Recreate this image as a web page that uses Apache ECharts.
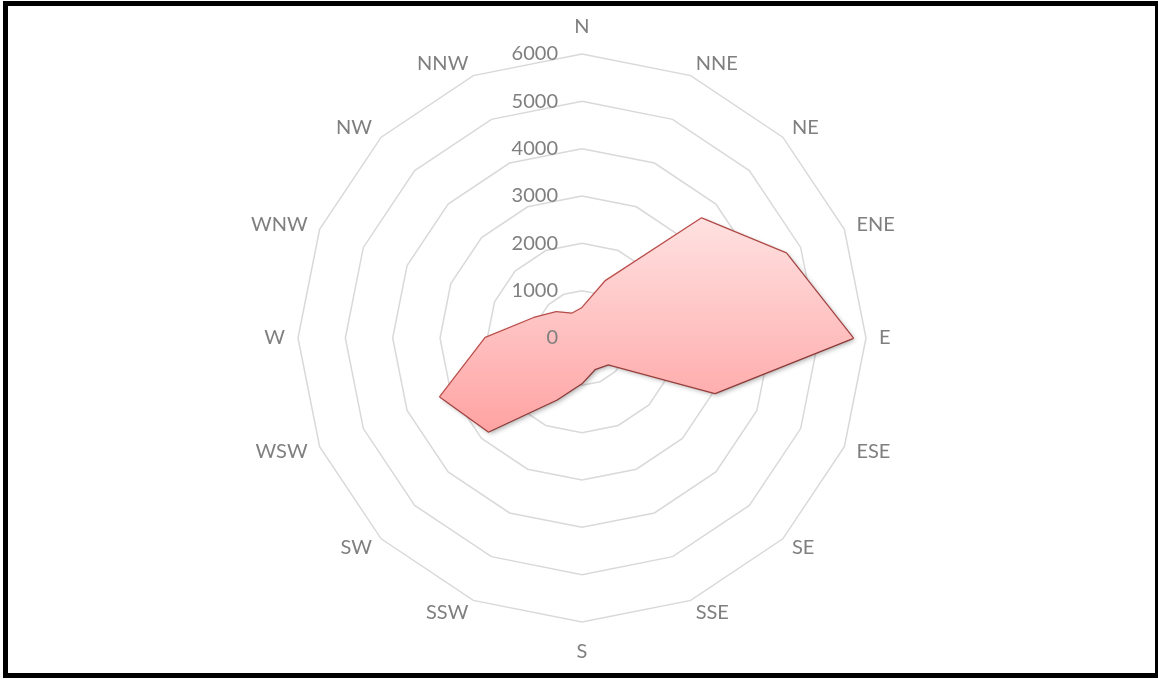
<!DOCTYPE html>
<html>
<head>
<meta charset="utf-8">
<script src="https://cdn.jsdelivr.net/npm/echarts@6/dist/echarts.min.js"></script>
<style>
html, body { margin: 0; padding: 0; background: #fff; }
#frame { position: absolute; left: 3px; top: 1px; width: 1157px; height: 677px; box-sizing: border-box; border: 5px solid #000; }
#chart { position: absolute; left: 0; top: 0; width: 1158px; height: 679px; }
</style>
</head>
<body>
<div id="chart"></div>
<div id="frame"></div>
<script>
// directions in compass order (clockwise from N)
var directions = ['N', 'NNE', 'NE', 'ENE', 'E', 'ESE', 'SE', 'SSE', 'S', 'SSW', 'SW', 'WSW', 'W', 'WNW', 'NW', 'NNW'];
var counts = [628, 1300, 3570, 4670, 5720, 3040, 785, 710, 950, 1410, 2790, 3240, 2040, 1100, 770, 555];
var maxValue = 6000;

// radar draws counter-clockwise, so walk the compass backwards after N
var order = [0];
for (var i = directions.length - 1; i > 0; i--) order.push(i);

var indicator = order.map(function (k) {
	return { name: directions[k], min: 0, max: maxValue };
});
// second copy only for the scale numbers, drawn above the filled area
var labelIndicator = order.map(function (k, idx) {
	var item = { name: directions[k], min: 0, max: maxValue };
	if (idx === 0) item.axisLabel = { show: true, showMinLabel: true };  // only N axis carries the numbers
	return item;
});
var values = order.map(function (k) { return counts[k]; });

var labelFont = { color: '#7f7f7f', fontFamily: 'Lato', fontSize: 20 };

var chart = echarts.init(document.getElementById('chart'));
var option = {
	animation: false,
	radar: [{
		z: 1,
		center: [582, 338],
		radius: 284,
		startAngle: 90,
		splitNumber: 6,
		shape: 'polygon',
		indicator: indicator,
		axisName: {
			color: '#7f7f7f',
			fontFamily: 'Lato',
			fontSize: 20,
			formatter: function (name) {
				if (name === 'N') return '{n|N}';
				if (name === 'S') return '{s|S}';
				return name;
			},
			rich: {
				n: { color: '#7f7f7f', fontFamily: 'Lato', fontSize: 20, padding: [0, 0, 4, 0] },
				s: { color: '#7f7f7f', fontFamily: 'Lato', fontSize: 20, padding: [7, 0, 0, 0] }
			}
		},
		nameGap: 13,
		axisLine: { show: false },
		axisTick: { show: false },
		axisLabel: { show: false },
		splitLine: { lineStyle: { color: '#d9d9d9', width: 1.5 } },
		splitArea: { show: false }
	}, {
		z: 5,
		center: [582, 338],
		radius: 284,
		startAngle: 90,
		splitNumber: 6,
		shape: 'polygon',
		indicator: labelIndicator,
		axisName: { show: false },
		axisLine: { show: false },
		axisTick: { show: false },
		axisLabel: {
			show: false,
			showMinLabel: true,
			color: labelFont.color,
			fontFamily: labelFont.fontFamily,
			fontSize: labelFont.fontSize,
			margin: 24,
			formatter: function (v) { return String(v); }
		},
		splitLine: { show: false },
		splitArea: { show: false }
	}],
	series: [{
		type: 'radar',
		radarIndex: 0,
		z: 2,
		symbol: 'none',
		data: [{ value: values }],
		lineStyle: { color: '#c0504d', width: 2.5 },
		areaStyle: {
			opacity: 1,
			color: new echarts.graphic.LinearGradient(0, 0, 0, 1, [
				{ offset: 0, color: '#ffe1e1' },
				{ offset: 1, color: '#ffa3a3' }
			]),
			shadowColor: 'rgba(0,0,0,0.35)',
			shadowBlur: 5,
			shadowOffsetX: 2,
			shadowOffsetY: 2
		}
	}]
};
chart.setOption(option);
</script>
</body>
</html>
